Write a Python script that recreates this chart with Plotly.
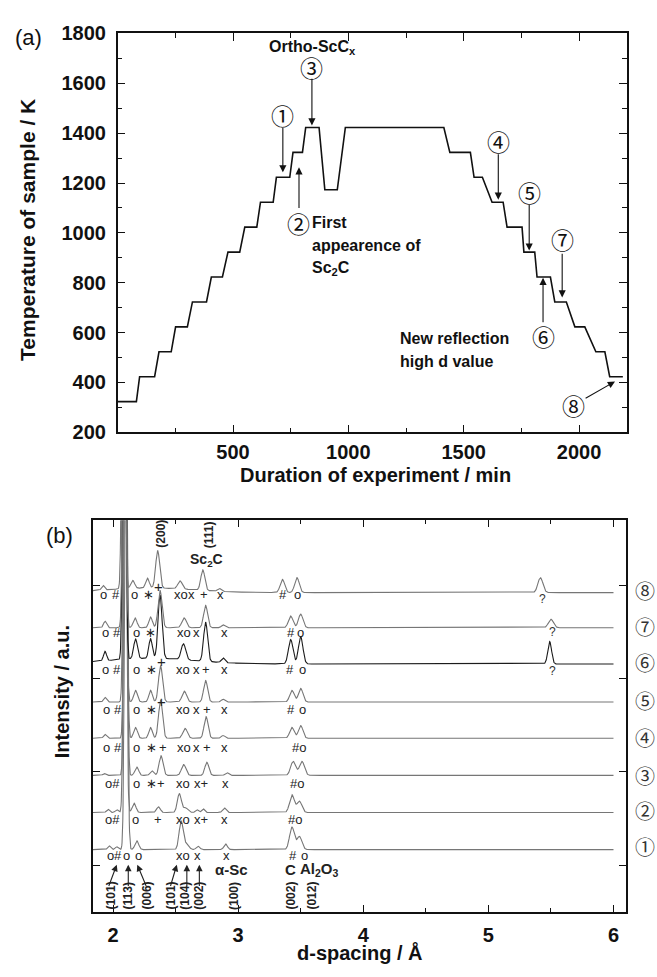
import numpy as np
import plotly.graph_objects as go

W, H = 657, 977

# ---------------- Panel (a): temperature programme ----------------
time_min = [0, 81, 95, 160, 179, 232, 251, 302, 324, 385, 406, 454, 478, 529, 551, 603,
            619, 674, 688, 746, 760, 801, 815, 873, 898, 952, 987, 1414, 1440, 1529, 1545,
            1581, 1623, 1671, 1688, 1753, 1761, 1808, 1818, 1876, 1895, 1945, 1982, 2025,
            2073, 2112, 2133, 2190]
temp_K = [323, 323, 423, 423, 523, 523, 623, 623, 723, 723, 823, 823, 923, 923, 1023, 1023,
          1123, 1123, 1223, 1223, 1323, 1323, 1423, 1423, 1173, 1173, 1423, 1423, 1323, 1323, 1223,
          1223, 1123, 1123, 1023, 1023, 923, 923, 823, 823, 723, 723, 623, 623,
          523, 523, 423, 423]

# ---------------- Panel (b): diffraction patterns ----------------
d_start, d_end = 1.84, 6.0
# vertical offsets of the patterns (1 = bottom ... 8 = top)
offsets = [16.8, 56.5, 96.3, 136.1, 174.9, 215.7, 254.5, 292.1]
# peaks: (d-spacing, height, width)
peaks_1 = [(1.97, 4, 0.012), (2.03, 3, 0.012), (2.104, 500, 0.011), (2.19, 9.5, 0.015),
           (2.544, 30, 0.016), (2.585, 6, 0.02), (2.68, 3.5, 0.014), (2.90, 6, 0.014),
           (3.43, 24, 0.019), (3.49, 14, 0.02)]
peaks_2 = [(1.96, 3.5, 0.012), (2.03, 3, 0.012), (2.096, 500, 0.011), (2.168, 10, 0.015),
           (2.363, 6, 0.015), (2.53, 20, 0.016), (2.58, 5, 0.02), (2.67, 3, 0.012),
           (2.72, 4, 0.012), (2.89, 5, 0.014), (3.43, 19, 0.019), (3.49, 12, 0.02)]
peaks_3 = [(1.93, 2, 0.012), (2.10, 500, 0.011), (2.19, 9, 0.015), (2.31, 5, 0.014),
           (2.384, 21, 0.016), (2.565, 11.5, 0.018), (2.75, 14, 0.016), (2.91, 3, 0.014),
           (3.44, 15, 0.02), (3.51, 15, 0.02)]
peaks_4 = [(1.936, 4, 0.012), (2.10, 500, 0.011), (2.18, 11.5, 0.015), (2.30, 11.5, 0.014),
           (2.38, 41, 0.016), (2.576, 10.5, 0.018), (2.744, 23, 0.016), (2.88, 3, 0.014),
           (3.43, 11.5, 0.018), (3.50, 13.5, 0.018)]
peaks_5 = [(1.936, 5, 0.012), (2.095, 500, 0.011), (2.18, 12.5, 0.015), (2.30, 12.5, 0.014),
           (2.38, 39, 0.016), (2.57, 11.5, 0.018), (2.74, 23, 0.016), (2.88, 3, 0.014),
           (3.43, 12.5, 0.018), (3.50, 14.5, 0.018)]
peaks_6 = [(2.3, 6, 0.35), (1.936, 10, 0.012), (2.09, 500, 0.011), (2.18, 21, 0.015),
           (2.30, 21, 0.014), (2.376, 68, 0.016), (2.563, 17, 0.018), (2.74, 42, 0.016),
           (2.88, 5, 0.014), (3.42, 26, 0.018), (3.50, 29, 0.018), (5.49, 24, 0.015)]
peaks_7 = [(1.936, 7, 0.012), (2.09, 500, 0.011), (2.176, 10.5, 0.015), (2.30, 11.5, 0.014),
           (2.376, 40, 0.016), (2.568, 10.5, 0.018), (2.74, 24, 0.016), (2.88, 3, 0.014),
           (3.42, 12.5, 0.018), (3.50, 14.5, 0.018), (5.50, 9, 0.02)]
peaks_8 = [(2.3, 5, 0.35), (1.92, 5, 0.012), (2.083, 500, 0.011), (2.157, 8.5, 0.015),
           (2.275, 10.5, 0.014), (2.357, 40, 0.016), (2.536, 8.5, 0.018), (2.718, 22, 0.016),
           (2.85, 3, 0.014), (3.354, 14, 0.018), (3.47, 16, 0.018), (5.416, 16, 0.02)]
all_peaks = [peaks_1, peaks_2, peaks_3, peaks_4, peaks_5, peaks_6, peaks_7, peaks_8]
pattern_labels = ["①", "②", "③", "④", "⑤", "⑥", "⑦", "⑧"]

# phase labels under each pattern: (d, symbol)
marks_1 = [(1.976, "o"), (2.042, "#"), (2.104, "o"), (2.202, "o"), (2.556, "xo"), (2.678, "x"),
           (2.904, "x"), (3.442, "#"), (3.53, "o")]
marks_2 = [(1.996, "o#"), (2.176, "o"), (2.362, "+"), (2.556, "xo"), (2.702, "x+"), (2.89, "x"),
           (3.456, "#o")]
marks_3 = [(1.996, "o#"), (2.19, "o"), (2.34, "∗+"), (2.56, "xo"), (2.706, "x+"), (2.896, "x"),
           (3.47, "#o")]
marks_4 = [(1.95, "o"), (2.042, "#"), (2.19, "o"), (2.31, "∗"), (2.398, "+"), (2.57, "xo"),
           (2.664, "x"), (2.75, "+"), (2.888, "x"), (3.486, "#o")]
marks_5 = [(1.95, "o"), (2.042, "#"), (2.19, "o"), (2.31, "∗"), (2.562, "xo"), (2.664, "x"),
           (2.75, "+"), (2.888, "x"), (3.424, "#"), (3.518, "o")]
marks_6 = [(1.936, "o"), (2.03, "#"), (2.19, "o"), (2.304, "∗"), (2.56, "xo"), (2.664, "x"),
           (2.744, "+"), (2.888, "x"), (3.416, "#"), (3.518, "o")]
marks_7 = [(1.936, "o"), (2.03, "#"), (2.19, "o"), (2.296, "∗"), (2.564, "xo"), (2.664, "x"),
           (2.888, "x"), (3.422, "#"), (3.502, "o")]
marks_8 = [(1.922, "o"), (2.024, "#"), (2.17, "o"), (2.282, "∗"), (2.545, "xo"), (2.63, "x"),
           (2.73, "+"), (2.862, "x"), (3.358, "#"), (3.478, "o")]
all_marks = [marks_1, marks_2, marks_3, marks_4, marks_5, marks_6, marks_7, marks_8]
mark_rows = [10.2, 49.5, 88.0, 126.4, 167.2, 210.2, 249.5, 290.4]
# raised "+" of the (200) reflection: (d, y)
plus_200 = [(2.362, 298.4), (2.384, 218.1), (2.384, 175.2)]
unknown_marks = [(5.433, 285.1), (5.514, 250.3), (5.51, 208.4)]

# bottom reflection indices (d, label)
hkl_labels = [(1.982, "(101)"), (2.118, "(113)"), (2.27, "(006)"), (2.462, "(101)"),
              (2.576, "(104)"), (2.688, "(002)"), (2.962, "(100)"), (3.422, "(002)"),
              (3.59, "(012)")]
hkl_arrows = [(2.03, 1.962), (2.122, 2.122), (2.194, 2.27), (2.51, 2.456), (2.59, 2.59),
              (2.69, 2.69)]

FONT = "Liberation Sans, Arial, sans-serif"
CIRC = "Noto Sans CJK JP, DejaVu Sans, sans-serif"


def px2paper(x, y):
    return x / W, 1 - y / H


fig = go.Figure()

fig.add_trace(go.Scatter(x=time_min, y=temp_K, mode="lines",
                         line=dict(color="#111111", width=1.6),
                         xaxis="x", yaxis="y", showlegend=False, hoverinfo="skip"))

d_grid = np.arange(d_start, d_end + 1e-9, 0.002)
for i, (off, pk) in enumerate(zip(offsets, all_peaks)):
    yv = np.full_like(d_grid, off)
    for c, h, w in pk:
        yv = yv + h * np.exp(-0.5 * ((d_grid - c) / w) ** 2)
    color = "#1c1c1c" if i == 5 else "#767676"
    fig.add_trace(go.Scatter(x=d_grid, y=yv, mode="lines",
                             line=dict(color=color, width=1.1),
                             xaxis="x2", yaxis="y2", showlegend=False, hoverinfo="skip"))

ann = []
C = dict(xanchor="center", yanchor="middle")

# ---- panel (a) annotations ----
circ_a = [(716, 1474), (782, 1039), (842, 1667), (1650, 1369), (1784, 1165), (1844, 588),
          (1927, 976), (1974, 310)]
for lab, (tx, ty) in zip(pattern_labels, circ_a):
    ann.append(dict(x=tx, y=ty, xref="x", yref="y", text=lab, showarrow=False, **C,
                    font=dict(family=CIRC, size=23, color="#111")))
arrows_a = [(716, 1243, 716, 1427), (786, 1263, 786, 1094), (842, 1431, 842, 1624),
            (1650, 1133, 1650, 1322), (1784, 929, 1784, 1118), (1844, 820, 1844, 635),
            (1927, 741, 1927, 922), (2156, 404, 2022, 333)]
for hx, hy, tx, ty in arrows_a:
    ann.append(dict(x=hx, y=hy, ax=tx, ay=ty, xref="x", yref="y", axref="x", ayref="y",
                    text="", showarrow=True, arrowhead=2, arrowsize=1.3, arrowwidth=1.1,
                    arrowcolor="#111", standoff=0, startstandoff=0))
bold16 = dict(family=FONT, size=16, color="#111", weight="bold")
ann.append(dict(x=846, y=1742, xref="x", yref="y", text="Ortho-ScC<sub>x</sub>",
                showarrow=False, font=bold16, **C))
for txt, ty in [("First", 1040), ("appearence of", 949), ("Sc<sub>2</sub>C", 859)]:
    ann.append(dict(x=834, y=ty, xref="x", yref="y", text=txt, showarrow=False,
                    xanchor="left", yanchor="middle", font=bold16))
for txt, ty in [("New reflection", 576), ("high d value", 486)]:
    ann.append(dict(x=1216, y=ty, xref="x", yref="y", text=txt, showarrow=False,
                    xanchor="left", yanchor="middle", font=bold16))

# ---- panel (b) annotations ----
mark_font = dict(family=FONT, size=13, color="#222")
for row, marks in zip(mark_rows, all_marks):
    for dx, s in marks:
        ann.append(dict(x=dx, y=row, xref="x2", yref="y2", text=s, showarrow=False,
                        font=mark_font, **C))
for dx, yy in plus_200:
    ann.append(dict(x=dx, y=yy, xref="x2", yref="y2", text="+", showarrow=False, **C,
                    font=dict(family=FONT, size=15, color="#222")))
for dx, yy in unknown_marks:
    ann.append(dict(x=dx, y=yy, xref="x2", yref="y2", text="?", showarrow=False, **C,
                    font=dict(family=FONT, size=12, color="#333")))
for dx, s in hkl_labels:
    ann.append(dict(x=dx, y=-32.5, xref="x2", yref="y2", text=s, showarrow=False, **C,
                    textangle=-90, font=dict(family=FONT, size=12, color="#222", weight="bold")))
for hx, tx in hkl_arrows:
    ann.append(dict(x=hx, y=0.7, ax=tx, ay=-23.8, xref="x2", yref="y2", axref="x2",
                    ayref="y2", text="", showarrow=True, arrowhead=2, arrowsize=1.2,
                    arrowwidth=1.1, arrowcolor="#222", standoff=0, startstandoff=0))
bold14 = dict(family=FONT, size=15, color="#222", weight="bold")
ann.append(dict(x=2.944, y=-4.2, xref="x2", yref="y2", text="α-Sc", showarrow=False,
                font=bold14, **C))
ann.append(dict(x=3.416, y=-4.2, xref="x2", yref="y2", text="C", showarrow=False,
                font=bold14, **C))
ann.append(dict(x=3.648, y=-4.2, xref="x2", yref="y2", text="Al<sub>2</sub>O<sub>3</sub>",
                showarrow=False, font=bold14, **C))
ann.append(dict(x=2.382, y=355, xref="x2", yref="y2", text="(200)", showarrow=False, **C,
                textangle=-90, font=dict(family=FONT, size=12, color="#222", weight="bold")))
ann.append(dict(x=2.762, y=354, xref="x2", yref="y2", text="(111)", showarrow=False, **C,
                textangle=-90, font=dict(family=FONT, size=12, color="#222", weight="bold")))
ann.append(dict(x=2.75, y=327, xref="x2", yref="y2", text="Sc<sub>2</sub>C", showarrow=False,
                **C, font=dict(family=FONT, size=14, color="#222", weight="bold")))

circ_b_px = [855, 818, 782, 743, 705, 667, 630, 593]
for lab, py in zip(pattern_labels, circ_b_px):
    px_, py_ = px2paper(645, py)
    ann.append(dict(x=px_, y=py_, xref="paper", yref="paper", text=lab, showarrow=False,
                    **C, font=dict(family=CIRC, size=20, color="#333")))

# ---- titles ----
def title_ann(text, x, y, size, angle=0, weight="bold"):
    px_, py_ = px2paper(x, y)
    return dict(x=px_, y=py_, xref="paper", yref="paper", text=text, showarrow=False,
                textangle=angle, **C,
                font=dict(family=FONT, size=size, color="#111", weight=weight))

ann.append(title_ann("Temperature of sample / K", 28, 224, 21, -90))
ann.append(title_ann("Duration of experiment / min", 375, 475, 20))
ann.append(title_ann("Intensity / a.u.", 62, 697, 20, -90))
ann.append(title_ann("d-spacing / Å", 360, 963, 20))
ann.append(title_ann("(a)", 28, 27, 22, weight="normal"))
ann.append(title_ann("(b)", 59, 537, 22, weight="normal"))

tickfont = dict(family=FONT, size=20, color="#111", weight="bold")
common = dict(showgrid=False, zeroline=False, showline=True, linecolor="#111", linewidth=1.5,
              mirror="ticks", ticks="inside", tickcolor="#111", tickwidth=1.3)

fig.update_layout(
    width=W, height=H, margin=dict(l=0, r=0, t=0, b=0),
    paper_bgcolor="white", plot_bgcolor="white", showlegend=False,
    xaxis=dict(domain=[117.7 / W, 627 / W], anchor="y", range=[0, 2208],
               tickvals=[500, 1000, 1500, 2000], ticklen=8, tickfont=tickfont,
               ticklabelstandoff=1,
               minor=dict(tickvals=[250, 750, 1250, 1750], ticklen=5, ticks="inside",
                          tickcolor="#111", tickwidth=1.2),
               **common),
    yaxis=dict(domain=[1 - 431 / H, 1 - 23 / H], anchor="x", range=[200, 1800],
               tickvals=list(range(200, 1801, 200)), ticklen=8, tickfont=tickfont,
               ticklabelstandoff=6,
               minor=dict(tickvals=list(range(300, 1800, 200)), ticklen=5, ticks="inside",
                          tickcolor="#111", tickwidth=1.2),
               **common),
    xaxis2=dict(domain=[93 / W, 626 / W], anchor="y2", range=[1.84, 6.1],
                tickvals=[2, 3, 4, 5, 6], ticklen=7, tickfont=tickfont, ticklabelstandoff=4,
                minor=dict(tickvals=[2.5, 3.5, 4.5, 5.5], ticklen=4, ticks="inside",
                           tickcolor="#111", tickwidth=1.2),
                **common),
    yaxis2=dict(domain=[1 - 922 / H, 1 - 521 / H], anchor="x2", range=[-50.3, 369.6],
                tickvals=[0, 100, 200, 300], ticklen=7, showticklabels=False,
                **common),
    annotations=ann,
)

fig.write_html("out.html")
